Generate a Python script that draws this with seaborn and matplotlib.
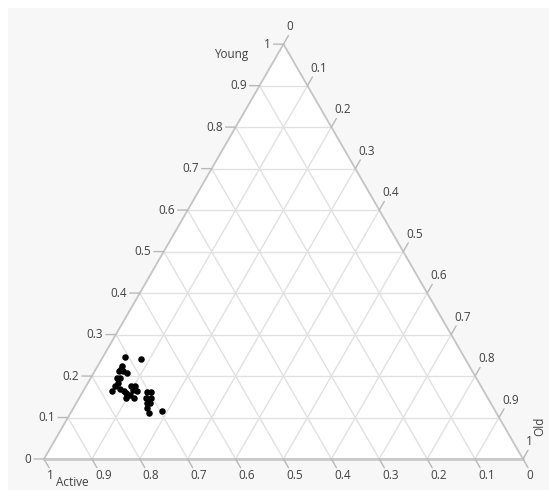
import numpy as np
import pandas as pd
import matplotlib
matplotlib.use("Agg")
import matplotlib.pyplot as plt
import seaborn as sns
from matplotlib.transforms import Affine2D
from matplotlib.patches import Polygon, Rectangle

# Composition of each sample (fractions sum to 1)
active = [0.707, 0.678, 0.726, 0.731, 0.738, 0.729, 0.722, 0.751, 0.744, 0.755,
          0.764, 0.776, 0.757, 0.752, 0.749, 0.755, 0.730, 0.721, 0.731, 0.725,
          0.744, 0.739, 0.704, 0.697, 0.713, 0.704, 0.718, 0.711, 0.724, 0.726,
          0.695]
young = [0.247, 0.241, 0.224, 0.218, 0.211, 0.211, 0.208, 0.195, 0.195, 0.183,
         0.175, 0.163, 0.169, 0.163, 0.158, 0.148, 0.175, 0.176, 0.166, 0.163,
         0.154, 0.148, 0.161, 0.161, 0.147, 0.147, 0.136, 0.136, 0.124, 0.111,
         0.116]
old = [0.046, 0.081, 0.050, 0.051, 0.051, 0.060, 0.070, 0.054, 0.061, 0.062,
       0.061, 0.061, 0.074, 0.085, 0.093, 0.097, 0.095, 0.103, 0.103, 0.112,
       0.102, 0.113, 0.135, 0.142, 0.140, 0.149, 0.146, 0.153, 0.152, 0.163,
       0.189]

tick_values = [0.0, 0.1, 0.2, 0.3, 0.4, 0.5, 0.6, 0.7, 0.8, 0.9, 1.0]
tick_labels = ["0", "0.1", "0.2", "0.3", "0.4", "0.5", "0.6", "0.7", "0.8", "0.9", "1"]

df = pd.DataFrame({"Active": active, "Young": young, "Old": old})

W, H = 549, 490
SIDE = 479.0          # triangle side in pixels
X0, Y0 = 44.0, 459.0  # bottom-left vertex in pixels (from top-left)

sns.set_theme(style="white")
plt.rcParams["font.family"] = ["Open Sans", "DejaVu Sans"]
TEXT = "#404040"
FS = 8.5

fig = plt.figure(figsize=(W / 100, H / 100), dpi=100)
fig.patch.set_facecolor("white")
ax = fig.add_axes([0, 0, 1, 1])
ax.set_axis_off()
ax.set_xlim(-X0 / SIDE, (W - X0) / SIDE)
ax.set_ylim(-(H - Y0) / SIDE, Y0 / SIDE)

# (Old, Young) -> Cartesian ternary projection
s3 = np.sqrt(3) / 2
tern = Affine2D.from_values(1, 0, 0.5, s3, 0, 0) + ax.transData

# panel background
ax.add_patch(Rectangle((8 / W, 0), 1, (H - 8) / H, transform=ax.transAxes,
                       facecolor="#F7F7F7", edgecolor="none", zorder=0))
ax.add_patch(Polygon([(0, 0), (1, 0), (0, 1)], closed=True, transform=tern,
                     facecolor="white", edgecolor="none", zorder=1))

# grid lines for each component
grid_kw = dict(color="#E1E1E1", lw=1.0, zorder=2, solid_capstyle="butt")
for v in tick_values[1:-1]:
    ax.plot([0, 1 - v], [v, v], transform=tern, **grid_kw)          # Young
    ax.plot([v, v], [0, 1 - v], transform=tern, **grid_kw)          # Old
    ax.plot([1 - v, 0], [0, 1 - v], transform=tern, **grid_kw)      # Active

# triangle outline
ax.add_patch(Polygon([(0, 0), (1, 0), (0, 1)], closed=True, transform=tern,
                     facecolor="none", edgecolor="#C4C4C4", lw=1.3, zorder=3))
ax.plot([0, 1], [0, 0], transform=tern, color="#CACACA", lw=2.0, zorder=3)

tick_kw = dict(arrowstyle="-", color="#B8B8B8", lw=1.0, shrinkA=0, shrinkB=0)


def tick(xy, d):
    ax.annotate("", xy=xy, xycoords=tern, xytext=d, textcoords="offset pixels",
                arrowprops=tick_kw, zorder=3)


for v, lab in zip(tick_values, tick_labels):
    # Young axis (left edge)
    tick((0, v), (-10, 0))
    ax.annotate(lab, xy=(0, v), xycoords=tern, xytext=(-12.5, 0),
                textcoords="offset pixels", ha="right", va="center",
                fontsize=FS, color=TEXT)
    # Active axis (bottom edge)
    tick((1 - v, 0), (5, -8.7))
    ax.annotate(lab, xy=(1 - v, 0), xycoords=tern, xytext=(3, -10),
                textcoords="offset pixels", ha="left", va="top",
                fontsize=FS, color=TEXT)
    # Old axis (right edge)
    tick((v, 1 - v), (5, 8.7))
    ax.annotate(lab, xy=(v, 1 - v), xycoords=tern, xytext=(3, 11),
                textcoords="offset pixels", ha="left", va="bottom",
                fontsize=FS, color=TEXT)

# axis titles
ax.annotate("Young", xy=(0, 1), xycoords=tern, xytext=(-52, -10),
            textcoords="offset pixels", ha="center", va="center",
            fontsize=FS, color=TEXT)
ax.annotate("Active", xy=(0, 0), xycoords=tern,
            xytext=(12, -30), textcoords="offset pixels", ha="left",
            va="bottom", fontsize=FS, color=TEXT, annotation_clip=False)
ax.annotate("Old", xy=(1, 0), xycoords=tern, xytext=(16.5, 32.5),
            textcoords="offset pixels", ha="center", va="center",
            rotation=90, fontsize=FS, color=TEXT)

sns.scatterplot(data=df, x="Old", y="Young", ax=ax, transform=tern,
                color="black", s=22, linewidth=0, zorder=5, legend=False)

ax.set_axis_off()
ax.set_xlim(-X0 / SIDE, (W - X0) / SIDE)
ax.set_ylim(-(H - Y0) / SIDE, Y0 / SIDE)

fig.savefig("out.png", dpi=100)
